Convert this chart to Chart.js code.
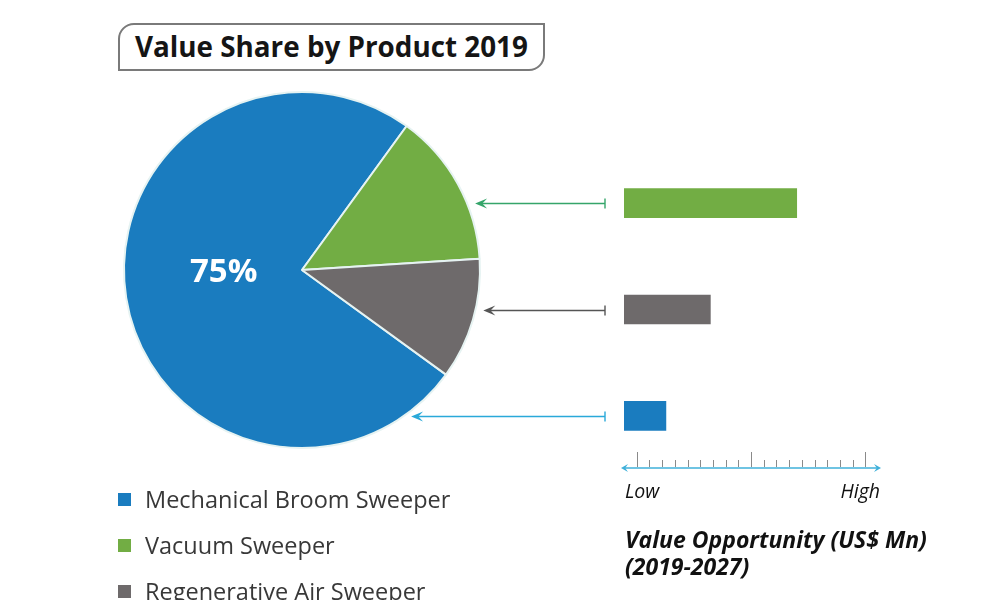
<!doctype html>
<html lang="en">
<head>
<meta charset="utf-8">
<title>Value Share by Product 2019</title>
<script src="https://cdn.jsdelivr.net/npm/chart.js@4.4.0/dist/chart.umd.min.js"></script>
<style>
  body { margin:0; width:1000px; height:600px; overflow:hidden; background:#fff; position:relative; font-family:"Open Sans", sans-serif; }
  canvas { position:absolute; left:0; top:0; }
  .title { position:absolute; left:118px; top:23px; width:427px; height:48px; box-sizing:border-box;
           border:2px solid #7a7a7a; border-radius:16px 0 16px 0; padding-left:15px;
           font-weight:700; font-size:27.8px; line-height:43px; color:#151515; white-space:nowrap; }
  .legend { position:absolute; left:118px; top:476px; }
  .legend div { height:46px; display:flex; align-items:center; font-size:23.5px; color:#383838; white-space:nowrap; }
  .legend span { width:13px; height:13px; margin-right:14px; display:inline-block; }
  .opp { position:absolute; left:625px; top:526px; font-weight:700; font-style:italic; font-size:23px; line-height:27px; color:#111; white-space:nowrap; }
</style>
</head>
<body>
  <div class="title">Value Share by Product 2019</div>
  <canvas id="pie" width="1000" height="600"></canvas>
  <canvas id="bars" width="1000" height="600"></canvas>
  <div class="legend" id="legend"></div>
  <div class="opp">Value Opportunity (US$ Mn)<br>(2019-2027)</div>

<script>
  // pie: value share 2019
  const products = ['Mechanical Broom Sweeper', 'Vacuum Sweeper', 'Regenerative Air Sweeper'];
  const colors = ['#1a7cbf', '#72ad44', '#6e6a6b'];
  const shares = [75, 14, 11];

  // bars: value opportunity 2019-2027 (low..high)
  const barProducts = ['Vacuum Sweeper', 'Regenerative Air Sweeper', 'Mechanical Broom Sweeper'];
  const barColors = ['#72ad44', '#6e6a6b', '#1a7cbf'];
  const arrowColors = ['#35a56a', '#555555', '#2aa9d9'];
  const opportunity = [68, 34, 16.5];

  // low/high scale
  const tickValues = [5, 10, 15, 20, 25, 30, 35, 40, 45, 50, 55, 60, 65, 70, 75, 80, 85, 90, 95];
  const majorTicks = [5, 50, 95];
  const axisLabels = ['Low', 'High'];

  // html legend
  const legend = document.getElementById('legend');
  products.forEach((p, i) => {
    let row = document.createElement('div');
    row.innerHTML = `<span style="background:${colors[i]}"></span>${p}`;
    legend.append(row);
  });

  const shareLabel = {
    id: 'shareLabel',
    afterDatasetsDraw(chart) {
      const ctx = chart.ctx;
      const arc = chart.getDatasetMeta(0).data[0];
      const { x, y, outerRadius } = arc.getProps(['x', 'y', 'outerRadius'], true);
      ctx.save();
      ctx.font = '700 33px "Open Sans"';
      ctx.fillStyle = '#fff';
      ctx.textAlign = 'center';
      ctx.textBaseline = 'middle';
      ctx.fillText(shares[0] + '%', x - outerRadius * 0.44, y + 3);
      ctx.restore();
    }
  };

  const pieChart = new Chart(document.getElementById('pie'), {
    type: 'pie',
    data: {
      labels: products,
      datasets: [{ data: shares, backgroundColor: colors, borderColor: '#e6f3f2', borderWidth: 2 }]
    },
    options: {
      responsive: false,
      animation: false,
      rotation: 126,
      layout: { padding: { left: 123, right: 519, top: 91, bottom: 151 } },
      plugins: { legend: { display: false }, tooltip: { enabled: false } }
    },
    plugins: [shareLabel]
  });

  function arrowHead(ctx, x, y, dir, len, half) {
    ctx.beginPath();
    ctx.moveTo(x, y);
    ctx.lineTo(x - dir * len, y - half);
    ctx.lineTo(x - dir * len * 0.6, y);
    ctx.lineTo(x - dir * len, y + half);
    ctx.closePath();
    ctx.fill();
  }

  const opportunityAxis = {
    id: 'opportunityAxis',
    afterDraw(chart) {
      const { ctx, chartArea, scales: { x, y } } = chart;
      const axisY = chartArea.bottom - 1;
      const x0 = x.getPixelForValue(0), x1 = x.getPixelForValue(100);
      ctx.save();

      // axis line with arrows both ends
      ctx.strokeStyle = '#3fb0da';
      ctx.fillStyle = '#3fb0da';
      ctx.lineWidth = 1.5;
      ctx.beginPath();
      ctx.moveTo(x0, axisY);
      ctx.lineTo(x1, axisY);
      ctx.stroke();
      arrowHead(ctx, x0 - 3, axisY, -1, 7, 4);
      arrowHead(ctx, x1 + 3, axisY, 1, 7, 4);

      ctx.strokeStyle = '#8a8a8a';
      ctx.lineWidth = 1;
      tickValues.forEach(v => {
        const px = Math.round(x.getPixelForValue(v)) + 0.5;
        const h = majorTicks.includes(v) ? 15 : 7;
        ctx.beginPath();
        ctx.moveTo(px, axisY - 1);
        ctx.lineTo(px, axisY - 1 - h);
        ctx.stroke();
      });

      ctx.font = 'italic 19.5px "Open Sans"';
      ctx.fillStyle = '#111';
      ctx.textBaseline = 'middle';
      ctx.textAlign = 'left';
      ctx.fillText(axisLabels[0], x0 + 1, axisY + 24);
      ctx.textAlign = 'right';
      ctx.fillText(axisLabels[1], x1 + 2, axisY + 24);

      // arrows from bars to pie
      const arc = pieChart.getDatasetMeta(0).data[0];
      const { x: cx, y: cy, outerRadius: r } = arc.getProps(['x', 'y', 'outerRadius'], true);
      barProducts.forEach((p, i) => {
        const py = Math.round(y.getPixelForValue(i)) + 0.5;
        const dy = py - cy;
        const tip = cx + Math.sqrt(Math.max(r * r - dy * dy, 0)) + 8;
        const start = chartArea.left - 19;
        ctx.strokeStyle = arrowColors[i];
        ctx.fillStyle = arrowColors[i];
        ctx.lineWidth = 1.4;
        ctx.beginPath();
        ctx.moveTo(start, py);
        ctx.lineTo(tip + 5, py);
        ctx.moveTo(start, py - 5);
        ctx.lineTo(start, py + 5);
        ctx.stroke();
        arrowHead(ctx, tip, py, -1, 12, 5);
      });
      ctx.restore();
    }
  };

  new Chart(document.getElementById('bars'), {
    type: 'bar',
    data: {
      labels: barProducts,
      datasets: [{ data: opportunity, backgroundColor: barColors, barThickness: 29 }]
    },
    options: {
      indexAxis: 'y',
      responsive: false,
      animation: false,
      layout: { padding: { left: 624, right: 122, top: 150, bottom: 131 } },
      plugins: { legend: { display: false }, tooltip: { enabled: false } },
      scales: {
        x: { display: false, min: 0, max: 100 },
        y: { display: false }
      }
    },
    plugins: [opportunityAxis]
  });
</script>
</body>
</html>
